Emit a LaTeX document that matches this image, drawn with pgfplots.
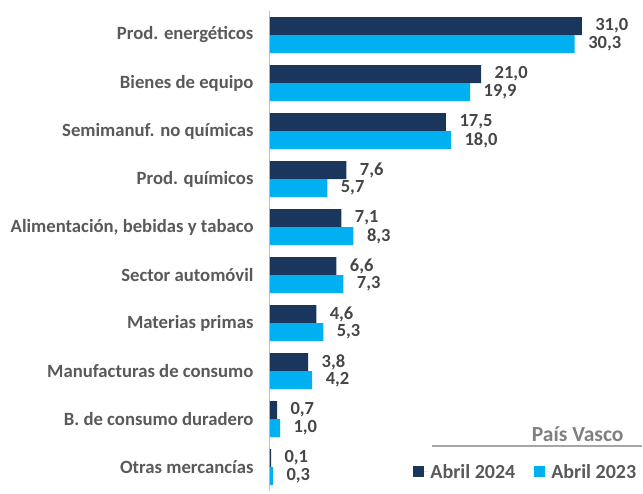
\documentclass[border=0pt]{standalone}
\usepackage{fontspec}
\setmainfont{Carlito}
\usepackage{pgfplots}
\pgfplotsset{compat=1.18}
\definecolor{navy}{HTML}{1B365D}
\definecolor{cyanb}{HTML}{00B0F0}
\definecolor{txt}{HTML}{595959}
\definecolor{valtxt}{HTML}{464646}
\definecolor{axisgray}{HTML}{BFBFBF}

\begin{document}
\begin{tikzpicture}[x=1pt,y=1pt]
\path (0,0) rectangle (643,493);
\begin{axis}[
  at={(270pt,2pt)}, anchor=south west,
  scale only axis, width=352pt, height=480pt,
  xbar, bar width=18pt,
  xmin=0, xmax=35,
  ymin=-0.5, ymax=9.5, y dir=reverse,
  axis x line=none, axis y line*=left,
  y axis line style={draw=axisgray, line width=1pt},
  ytick={0,...,9}, major tick length=0pt,
  yticklabels={Prod. energéticos, Bienes de equipo, Semimanuf. no químicas,
    Prod. químicos, {Alimentación, bebidas y tabaco}, Sector automóvil,
    Materias primas, Manufacturas de consumo, B. de consumo duradero,
    Otras mercancías},
  yticklabel style={font=\fontsize{18.7}{19}\selectfont\bfseries, text=txt, xshift=-13pt},
  clip=false,
  nodes near coords={\pgfmathprintnumber[fixed,fixed zerofill,precision=1,use comma,assume math mode=true]{\pgfplotspointmeta}},
  every node near coord/.append style={font=\fontsize{18.5}{19}\selectfont\bfseries, text=valtxt, xshift=10pt},
  legend columns=2,
  legend style={at={(1.055,0.04)}, anchor=east, draw=none, fill=none,
    font=\fontsize{20}{21}\selectfont\bfseries, text=txt,
    /tikz/every even column/.append style={column sep=17pt}},
  legend image code/.code={\path (0pt,0pt) -- (15pt,0pt);\fill[#1] (0pt,-5.5pt) rectangle (11pt,5.5pt);},
]
\addplot[fill=navy, draw=none, bar shift=9pt] coordinates {
  (31.0,0) (21.0,1) (17.5,2) (7.6,3) (7.1,4) (6.6,5) (4.6,6) (3.8,7) (0.7,8) (0.1,9)};
\addplot[fill=cyanb, draw=none, bar shift=-9pt] coordinates {
  (30.3,0) (19.9,1) (18.0,2) (5.7,3) (8.3,4) (7.3,5) (5.3,6) (4.2,7) (1.0,8) (0.3,9)};
\legend{Abril 2024, Abril 2023}
\end{axis}
\draw[draw=gray!70, line width=1.2pt] (432,47) -- (642,47);
\node[anchor=base east, font=\fontsize{21.5}{22}\selectfont\bfseries, text=gray] at (627,51) {País Vasco};
\end{tikzpicture}
\end{document}
